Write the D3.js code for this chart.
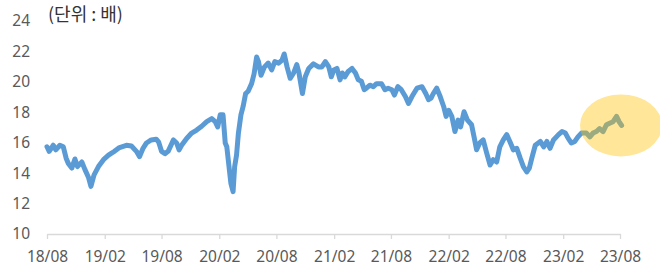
<!DOCTYPE html>
<html>
<head>
<meta charset="utf-8">
<script src="https://cdn.jsdelivr.net/npm/d3@7"></script>
<style>
  body { margin: 0; background: #fff; }
  .tick-label { font-family: "Noto Sans", "Open Sans", sans-serif; font-size: 15.5px; fill: #595959; }
  .unit-label { font-family: "Noto Sans CJK KR", sans-serif; font-size: 18px; fill: #333; }
</style>
</head>
<body>
<svg id="chart"></svg>
<script>
// dates and values
const dates = [
  "2018-08-01","2018-08-08","2018-08-21","2018-08-29","2018-09-11","2018-09-22","2018-10-01","2018-10-08",
  "2018-10-19","2018-10-29","2018-11-06","2018-11-20","2018-11-30","2018-12-11","2018-12-19","2018-12-29",
  "2019-01-12","2019-01-28","2019-02-13","2019-02-24","2019-03-04","2019-03-20","2019-04-11","2019-04-27",
  "2019-05-13","2019-05-23","2019-06-03","2019-06-14","2019-06-29","2019-07-15","2019-07-23","2019-08-01",
  "2019-08-12","2019-08-22","2019-09-08","2019-09-18","2019-09-26","2019-10-04","2019-10-20","2019-11-05",
  "2019-11-21","2019-12-07","2019-12-23","2020-01-08","2020-01-19","2020-01-27","2020-02-04","2020-02-13",
  "2020-02-20","2020-02-25","2020-03-03","2020-03-09","2020-03-16","2020-03-21","2020-03-27","2020-04-02",
  "2020-04-10","2020-04-17","2020-04-25","2020-05-03","2020-05-14","2020-05-22","2020-05-30","2020-06-05",
  "2020-06-13","2020-06-24","2020-07-06","2020-07-17","2020-07-27","2020-08-08","2020-08-19","2020-08-26",
  "2020-09-04","2020-09-14","2020-09-25","2020-10-05","2020-10-12","2020-10-23","2020-11-01","2020-11-12",
  "2020-11-27","2020-12-13","2020-12-24","2021-01-04","2021-01-15","2021-01-23","2021-01-31","2021-02-10",
  "2021-02-20","2021-02-27","2021-03-07","2021-03-18","2021-03-30","2021-04-10","2021-04-19","2021-04-29",
  "2021-05-08","2021-05-15","2021-05-26","2021-06-06","2021-06-16","2021-07-02","2021-07-13","2021-07-23",
  "2021-08-04","2021-08-12","2021-08-23","2021-09-03","2021-09-16","2021-09-26","2021-10-07","2021-10-23",
  "2021-11-08","2021-11-20","2021-11-29","2021-12-07","2021-12-14","2021-12-25","2022-01-05","2022-01-16",
  "2022-01-24","2022-02-01","2022-02-11","2022-02-21","2022-03-03","2022-03-11","2022-03-22","2022-04-02",
  "2022-04-15","2022-04-23","2022-05-01","2022-05-11","2022-05-22","2022-06-02","2022-06-13","2022-06-23",
  "2022-07-04","2022-07-14","2022-07-25","2022-08-05","2022-08-15","2022-08-26","2022-09-06","2022-09-17",
  "2022-09-27","2022-10-08","2022-10-16","2022-10-24","2022-11-04","2022-11-20","2022-12-01","2022-12-11",
  "2022-12-21","2023-01-01","2023-01-17","2023-01-28","2023-02-08","2023-02-17","2023-02-27","2023-03-10",
  "2023-03-20","2023-03-31","2023-04-16","2023-04-27","2023-05-07","2023-05-18","2023-05-28","2023-06-08",
  "2023-06-19","2023-06-29","2023-07-10","2023-07-21","2023-07-29","2023-08-06"
];
const values = [
  15.7,15.4,15.8,15.5,15.8,15.7,14.95,14.6,
  14.3,14.9,14.4,14.7,14.2,13.7,13.1,13.85,
  14.4,14.85,15.15,15.3,15.4,15.65,15.8,15.75,
  15.4,15.05,15.6,15.95,16.15,16.2,16.0,15.4,
  15.25,15.4,16.15,15.95,15.5,15.8,16.25,16.6,
  16.8,17.05,17.35,17.55,17.35,17.0,17.8,17.8,
  15.95,15.7,14.4,13.3,12.75,14.4,15.15,16.6,
  17.8,18.35,19.2,19.35,19.85,20.5,21.6,21.3,
  20.4,20.95,21.2,20.75,21.3,21.2,21.4,21.8,
  20.95,20.2,20.55,21.1,20.55,19.2,20.3,20.85,
  21.15,20.95,20.95,21.3,20.95,20.3,20.75,20.85,
  20.1,20.55,20.3,20.65,20.85,20.55,20.1,20.0,
  19.45,19.55,19.75,19.65,19.85,19.85,19.45,19.55,
  19.45,19.1,19.65,19.45,19.0,18.55,19.0,19.55,
  19.65,19.2,18.8,18.9,19.2,19.55,19.0,18.35,
  17.7,18.1,17.7,16.7,17.45,17.0,18.0,17.45,
  17.15,16.35,15.5,15.95,16.15,15.3,14.5,14.85,
  14.7,15.7,16.15,16.5,16.05,15.5,15.6,14.95,
  14.4,14.05,14.3,14.95,15.8,16.05,15.7,16.05,
  15.6,16.15,16.5,16.7,16.6,16.25,15.95,16.05,
  16.35,16.6,16.6,16.35,16.6,16.7,16.9,16.7,
  17.15,17.25,17.35,17.7,17.35,17.1
];
const yTicks = [10, 12, 14, 16, 18, 20, 22, 24];
const xTicks = ["2018-08-01","2019-02-01","2019-08-01","2020-02-01","2020-08-01","2021-02-01",
                "2021-08-01","2022-02-01","2022-08-01","2023-02-01","2023-08-01"];
const unitText = "(단위 : 배)";

const parseDate = d3.timeParse("%Y-%m-%d");
const data = dates.map((d, i) => ({ date: parseDate(d), value: values[i] }));

const W = 660, H = 280;
const svg = d3.select("#chart").attr("width", W).attr("height", H);

// scales
const x = d3.scaleTime()
  .domain([parseDate(xTicks[0]), parseDate(xTicks[xTicks.length - 1])])
  .range([47, 620]);
const y = d3.scaleLinear().domain([10, 24]).range([233.5, 20.5]);

// x axis
const xAxis = svg.append("g")
  .attr("transform", "translate(0,234)")
  .call(d3.axisBottom(x)
    .tickValues(xTicks.map(parseDate))
    .tickFormat(d3.timeFormat("%y/%m"))
    .tickSize(5)
    .tickSizeOuter(0));
xAxis.select(".domain").attr("stroke", "#d9d9d9").attr("stroke-width", 1.3);
xAxis.selectAll(".tick line").attr("stroke", "#d9d9d9").attr("stroke-width", 1.3);
xAxis.selectAll(".tick text").attr("class", "tick-label").attr("dy", 0).attr("y", 28);

// y axis (labels only)
const yAxis = svg.append("g")
  .attr("transform", "translate(30,0)")
  .call(d3.axisLeft(y).tickValues(yTicks).tickSize(0).tickPadding(0));
yAxis.select(".domain").remove();
yAxis.selectAll(".tick text").attr("class", "tick-label").attr("dy", "0.35em");

// line
const line = d3.line()
  .x(d => x(d.date))
  .y(d => y(d.value));

svg.append("path")
  .datum(data)
  .attr("fill", "none")
  .attr("stroke", "#5b9bd5")
  .attr("stroke-width", 5)
  .attr("stroke-linejoin", "round")
  .attr("stroke-linecap", "round")
  .attr("d", line);

// highlight circle over recent period
svg.append("ellipse")
  .attr("cx", x(parseDate("2023-08-01")) + 1)
  .attr("cy", y(17.1))
  .attr("rx", 41)
  .attr("ry", 31)
  .attr("fill", "#ffc000")
  .attr("fill-opacity", 0.4);

// unit label
svg.append("text")
  .attr("class", "unit-label")
  .attr("x", 48)
  .attr("y", 21)
  .text(unitText);
</script>
</body>
</html>
